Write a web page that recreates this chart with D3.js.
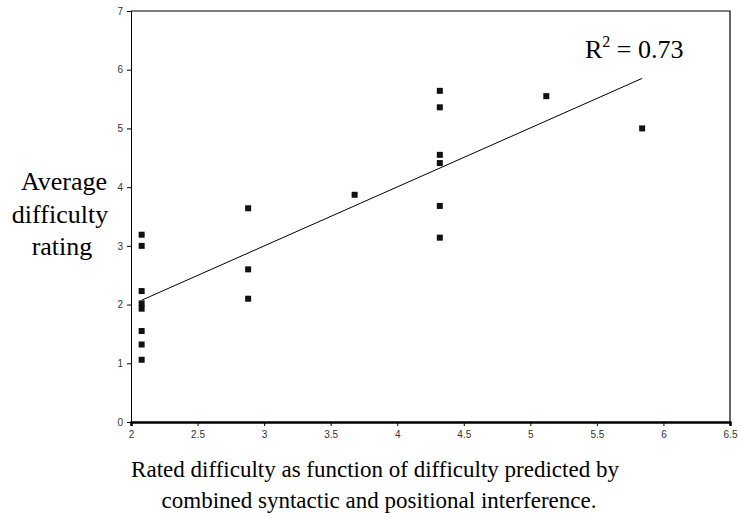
<!DOCTYPE html>
<html>
<head>
<meta charset="utf-8">
<script src="https://cdn.jsdelivr.net/npm/d3@7"></script>
<style>
  body { margin: 0; background: #fff; }
  svg { display: block; }
</style>
</head>
<body>
<div id="chart"></div>
<script>
// predicted difficulty (x) and average rating (y)
const predicted = [2.08, 2.08, 2.08, 2.08, 2.08, 2.08, 2.08, 2.08,
                   2.88, 2.88, 2.88,
                   3.68,
                   4.32, 4.32, 4.32, 4.32, 4.32, 4.32,
                   5.12,
                   5.84];
const rating = [3.19, 3.00, 2.23, 2.02, 1.93, 1.55, 1.32, 1.06,
                3.64, 2.60, 2.10,
                3.87,
                5.64, 5.36, 4.55, 4.41, 3.68, 3.14,
                5.55,
                5.00];
const xTicks = [2, 2.5, 3, 3.5, 4, 4.5, 5, 5.5, 6, 6.5];
const yTicks = [0, 1, 2, 3, 4, 5, 6, 7];
const rSquared = "0.73";
const yTitle = ["Average", "difficulty", "rating"];
const xTitle = ["Rated difficulty as function of difficulty predicted by",
                "combined syntactic and positional interference."];

const width = 741, height = 519;
const plotLeft = 131, plotRight = 730, plotTop = 11, plotBottom = 422;

const svg = d3.select('#chart').append('svg')
    .attr('width', width)
    .attr('height', height);

const x = d3.scaleLinear().domain([2, 6.5]).range([plotLeft, plotRight]);
const y = d3.scaleLinear().domain([0, 7]).range([plotBottom, plotTop]);

//axes
const xAxis = svg.append('g')
    .attr('transform', `translate(0,${plotBottom})`)
    .call(d3.axisBottom(x).tickValues(xTicks).tickSize(4).tickPadding(5)
        .tickFormat(d3.format('')));
const yAxis = svg.append('g')
    .attr('transform', `translate(${plotLeft},0)`)
    .call(d3.axisLeft(y).tickValues(yTicks).tickSize(4).tickPadding(4)
        .tickFormat(d3.format('')));

[xAxis, yAxis].forEach(g => {
    g.selectAll('text')
        .style('font-family', 'Liberation Sans, Arial, sans-serif')
        .style('font-size', '10px')
        .attr('fill', '#333');
    g.selectAll('line').attr('stroke', '#000');
    g.select('.domain').attr('stroke', '#000');
});
xAxis.select('.domain').attr('stroke-width', 2.5);

//box frame: top and right edges
svg.append('path')
    .attr('d', `M${plotLeft},${plotTop}H${plotRight}V${plotBottom}`)
    .attr('fill', 'none')
    .attr('stroke', '#000')
    .attr('stroke-width', 1.2);

//least squares trend line over the data range
const mx = d3.mean(predicted), my = d3.mean(rating);
let sxy = 0, sxx = 0;
predicted.forEach((v, i) => {
    sxy += (v - mx) * (rating[i] - my);
    sxx += (v - mx) * (v - mx);
});
const slope = sxy / sxx;
const intercept = my - slope * mx;
const [x0, x1] = d3.extent(predicted);

svg.append('line')
    .attr('x1', x(x0)).attr('y1', y(intercept + slope * x0))
    .attr('x2', x(x1)).attr('y2', y(intercept + slope * x1))
    .attr('stroke', '#000')
    .attr('stroke-width', 1);

//markers
const s = 6;
svg.selectAll('rect.pt')
    .data(predicted)
    .enter()
        .append('rect')
        .attr('class', 'pt')
        .attr('x', d => x(d) - s / 2)
        .attr('y', (d, i) => y(rating[i]) - s / 2)
        .attr('width', s)
        .attr('height', s)
        .attr('fill', '#111');

//R squared label
const r2 = svg.append('text')
    .attr('x', 585)
    .attr('y', 58)
    .style('font-family', 'Liberation Serif, Times New Roman, serif')
    .style('font-size', '26px')
    .attr('fill', '#000');
r2.append('tspan').text('R');
r2.append('tspan').attr('dy', -11).style('font-size', '16px').text('2');
r2.append('tspan').attr('dy', 11).text(` = ${rSquared}`);

//y title
const yPos = [[64, 190], [60, 223], [62, 255]];
svg.selectAll('text.ytitle')
    .data(yTitle)
    .enter()
        .append('text')
        .attr('class', 'ytitle')
        .attr('x', (d, i) => yPos[i][0])
        .attr('y', (d, i) => yPos[i][1])
        .attr('text-anchor', 'middle')
        .style('font-family', 'Liberation Serif, Times New Roman, serif')
        .style('font-size', '26px')
        .text(d => d);

//x title
const xCenter = [375, 379];
svg.selectAll('text.xtitle')
    .data(xTitle)
    .enter()
        .append('text')
        .attr('class', 'xtitle')
        .attr('x', (d, i) => xCenter[i])
        .attr('y', (d, i) => 477 + i * 31)
        .attr('text-anchor', 'middle')
        .style('font-family', 'Liberation Serif, Times New Roman, serif')
        .style('font-size', '23px')
        .text(d => d);
</script>
</body>
</html>
